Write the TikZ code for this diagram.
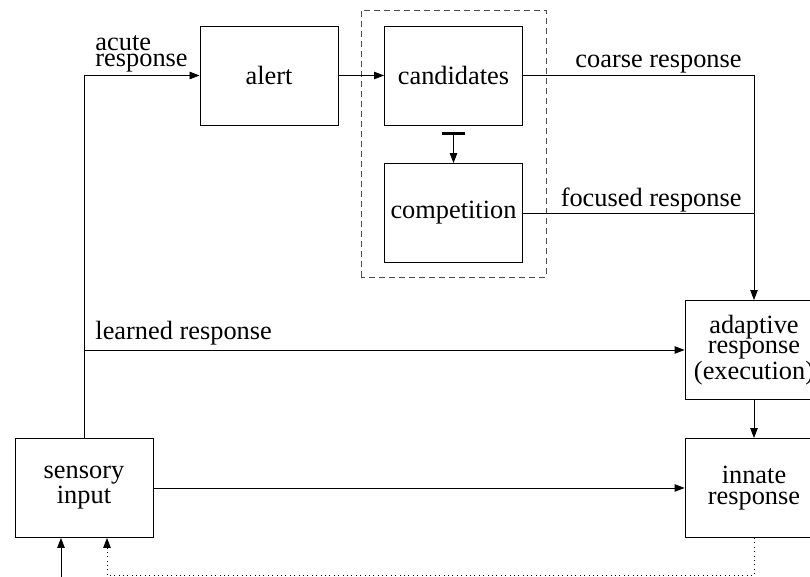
\documentclass[tikz,border=0pt]{standalone}
\usepackage{fontspec}
\setmainfont{Liberation Serif}
\newfontfamily\diagfont{Liberation Serif}
\usetikzlibrary{arrows.meta,calc}

\begin{document}
\begin{tikzpicture}[x=0.2mm, y=0.2mm, line width=0.5pt,
    >={Triangle[length=2mm,width=1.5mm]},
    block/.style={draw, minimum width=27.6mm, minimum height=19.8mm,
      align=center, inner sep=0pt, font=\diagfont\fontsize{15}{11.5}\selectfont},
    tag/.style={inner sep=0pt, align=left, font=\diagfont\fontsize{15}{9}\selectfont}]
  \useasboundingbox (0,0) rectangle (810,577);

  % blocks (pixel grid, y up)
  \node[block] (alert)       at (269, 501.5) {alert};
  \node[block] (candidates)  at (453.5, 501.5) {candidates};
  \node[block] (competition) at (453.5, 364) {competition};
  \node[block] (adaptive)    at (754, 227) {adaptive\\response\\(execution)};
  \node[block] (innate)      at (754, 89) {innate\\response};
  \node[block] (sensory)     at (84, 89) {sensory\\input};

  \coordinate (coarse)  at (754, 501.5);
  \coordinate (focused) at (754, 364);
  \coordinate (in)      at (61, -2);

  % selection stage
  \draw[dashed, dash pattern=on 1.2mm off 0.8mm, black!70] (361, 300) rectangle (546, 567);

  % sensory input to the responses
  \draw[->] (sensory.north) |- node[tag, pos=0.5, anchor=south west, xshift=2.2mm, yshift=0.6mm]
    {acute\\response} (alert.west);
  \draw[->] (sensory.north |- adaptive.west) -- (adaptive.west)
    node[tag, pos=0, anchor=south west, xshift=2.2mm, yshift=0.8mm] {learned response};
  \draw[->] (sensory) -- (innate);

  \draw[->] (alert) -- (candidates);
  \draw[{Bar[width=4.6mm,line width=1.4pt]}->, shorten <=1.4mm] (candidates) -- (competition);

  \draw (candidates.east) -- (coarse)
    node[tag, pos=1, anchor=south east, xshift=-2.4mm, yshift=0.4mm] {coarse response};
  \draw (competition.east) -- (focused)
    node[tag, pos=1, anchor=south east, xshift=-2.4mm] {focused response};
  \draw[->] (coarse) -- (adaptive.north);
  \draw[->] (adaptive) -- (innate);

  % input and feedback
  \draw[->] (in) -- (in |- sensory.south);
  \draw[->, dotted] (innate.south) -- (innate.south |- 0,1.5)
    -| ($(sensory.south)+(23,0)$);
\end{tikzpicture}
\end{document}
